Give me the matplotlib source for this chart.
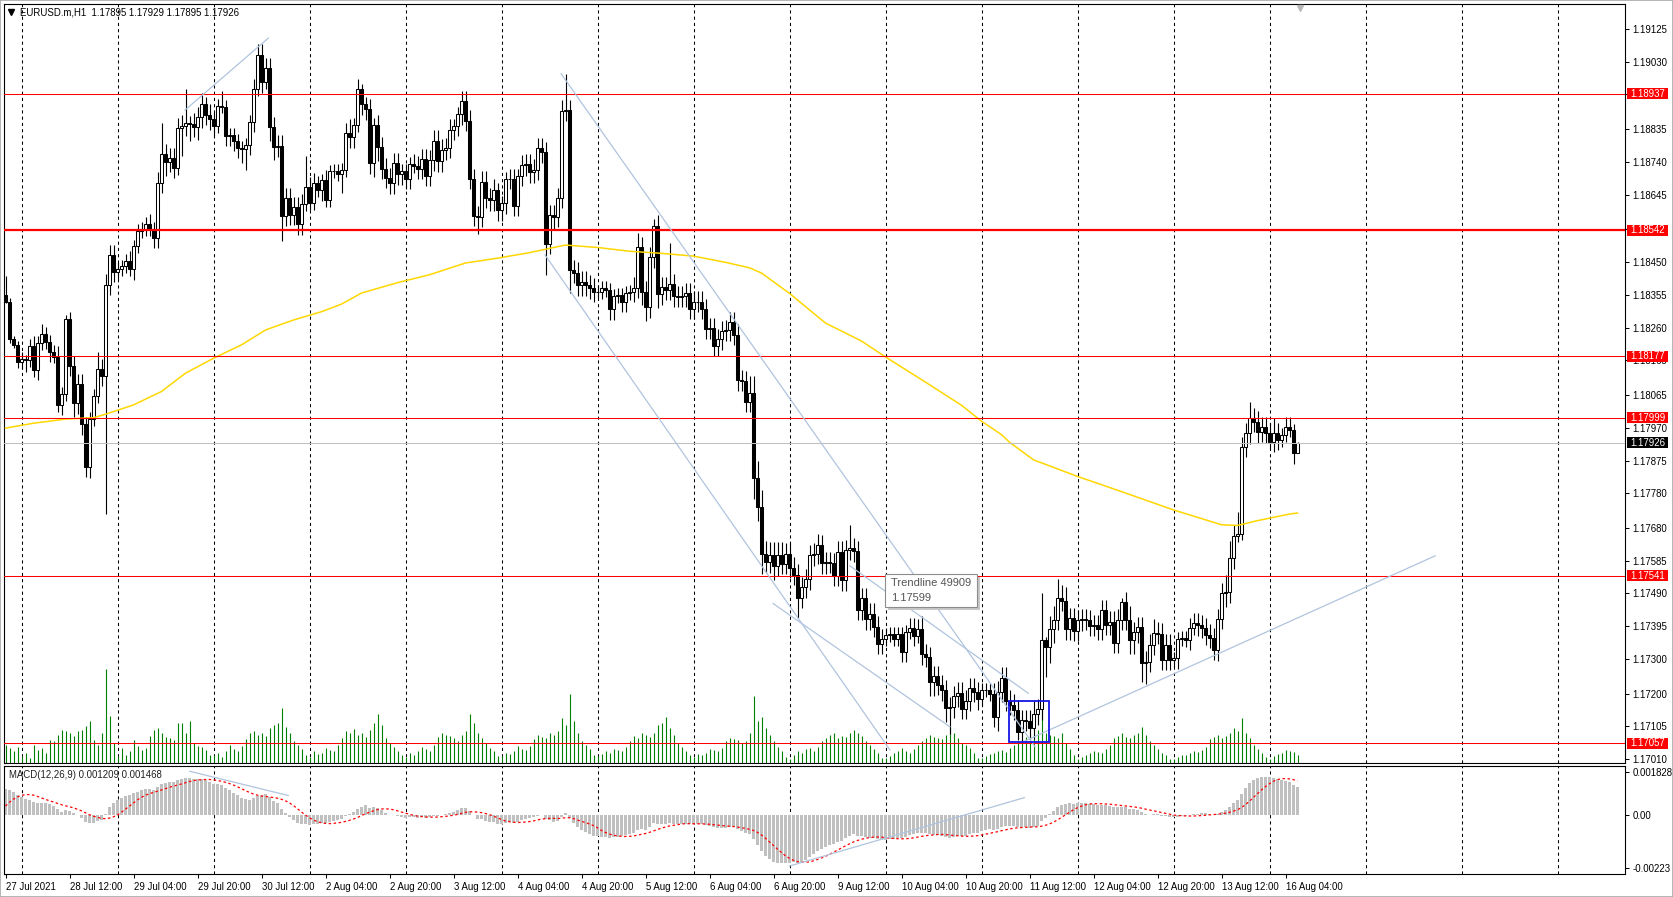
import matplotlib
matplotlib.use("Agg")
import matplotlib.pyplot as plt
import numpy as np
from matplotlib import transforms
from matplotlib.patches import Rectangle
from matplotlib.lines import Line2D

plt.rcParams['font.family'] = ['Liberation Sans', 'DejaVu Sans']

# ---------------- DATA (EURUSD.m H1, 27 Jul 2021 20:00 .. 16 Aug 2021 07:00) ----------------
first_open = 1.18355
close_27jul = [1.18335, 1.18226, 1.18210, 1.18160]
close_28jul = [1.18170, 1.18165, 1.18207, 1.18138, 1.18215, 1.18241, 1.18218, 1.18189, 1.18176, 1.18036, 1.18067, 1.18284,
               1.18149, 1.18041, 1.18097, 1.17980, 1.17855, 1.17995, 1.18063, 1.18139, 1.18121, 1.18384, 1.18470, 1.18422]
close_29jul = [1.18429, 1.18437, 1.18453, 1.18429, 1.18495, 1.18540, 1.18546, 1.18559, 1.18546, 1.18519, 1.18680, 1.18762,
               1.18740, 1.18750, 1.18723, 1.18837, 1.18845, 1.18852, 1.18850, 1.18842, 1.18869, 1.18908, 1.18876, 1.18863]
close_30jul = [1.18844, 1.18902, 1.18900, 1.18815, 1.18817, 1.18801, 1.18780, 1.18777, 1.18789, 1.18855, 1.18951, 1.19050,
               1.18970, 1.19011, 1.18840, 1.18784, 1.18787, 1.18584, 1.18635, 1.18586, 1.18609, 1.18559, 1.18618, 1.18667]
close_02aug = [1.18620, 1.18678, 1.18657, 1.18686, 1.18628, 1.18712, 1.18714, 1.18704, 1.18717, 1.18823, 1.18811, 1.18846,
               1.18950, 1.18907, 1.18892, 1.18736, 1.18847, 1.18782, 1.18720, 1.18693, 1.18678, 1.18736, 1.18704, 1.18714]
close_03aug = [1.18690, 1.18733, 1.18728, 1.18719, 1.18748, 1.18699, 1.18744, 1.18801, 1.18741, 1.18775, 1.18780, 1.18833,
               1.18844, 1.18878, 1.18916, 1.18859, 1.18690, 1.18583, 1.18581, 1.18683, 1.18635, 1.18628, 1.18659, 1.18600]
close_04aug = [1.18620, 1.18690, 1.18690, 1.18613, 1.18700, 1.18730, 1.18733, 1.18710, 1.18717, 1.18780, 1.18767, 1.18502,
               1.18585, 1.18580, 1.18635, 1.18888, 1.18890, 1.18427, 1.18419, 1.18382, 1.18393, 1.18382, 1.18374, 1.18364]
close_05aug = [1.18362, 1.18376, 1.18369, 1.18313, 1.18352, 1.18355, 1.18335, 1.18360, 1.18364, 1.18376, 1.18493, 1.18364,
               1.18319, 1.18463, 1.18555, 1.18356, 1.18377, 1.18369, 1.18385, 1.18351, 1.18349, 1.18350, 1.18359, 1.18314]
close_06aug = [1.18335, 1.18335, 1.18314, 1.18257, 1.18258, 1.18208, 1.18226, 1.18250, 1.18252, 1.18276, 1.18239, 1.18107,
               1.18105, 1.18045, 1.18071, 1.17825, 1.17740, 1.17603, 1.17580, 1.17600, 1.17570, 1.17600, 1.17575, 1.17605]
close_09aug = [1.17565, 1.17544, 1.17477, 1.17508, 1.17531, 1.17600, 1.17605, 1.17629, 1.17577, 1.17580, 1.17578, 1.17541,
               1.17611, 1.17528, 1.17616, 1.17621, 1.17612, 1.17442, 1.17477, 1.17415, 1.17432, 1.17394, 1.17344, 1.17358]
close_10aug = [1.17370, 1.17372, 1.17358, 1.17373, 1.17321, 1.17378, 1.17389, 1.17368, 1.17387, 1.17314, 1.17306, 1.17234,
               1.17250, 1.17225, 1.17210, 1.17159, 1.17160, 1.17192, 1.17203, 1.17156, 1.17180, 1.17215, 1.17205, 1.17184]
close_11aug = [1.17211, 1.17210, 1.17200, 1.17133, 1.17206, 1.17246, 1.17180, 1.17168, 1.17153, 1.17090, 1.17124, 1.17122,
               1.17100, 1.17140, 1.17155, 1.17355, 1.17335, 1.17386, 1.17414, 1.17476, 1.17469, 1.17386, 1.17418, 1.17382]
close_12aug = [1.17412, 1.17415, 1.17413, 1.17396, 1.17398, 1.17386, 1.17442, 1.17399, 1.17408, 1.17348, 1.17414, 1.17464,
               1.17413, 1.17355, 1.17378, 1.17393, 1.17288, 1.17293, 1.17342, 1.17376, 1.17374, 1.17298, 1.17342, 1.17298]
close_13aug = [1.17302, 1.17358, 1.17360, 1.17355, 1.17389, 1.17404, 1.17398, 1.17390, 1.17371, 1.17361, 1.17325, 1.17416,
               1.17491, 1.17493, 1.17592, 1.17657, 1.17662, 1.17914, 1.17954, 1.17998, 1.17988, 1.17959, 1.17972, 1.17955]
close_16aug = [1.17930, 1.17955, 1.17935, 1.17948, 1.17972, 1.17962, 1.17896, 1.17926]

# wick lengths beyond the body, in pips
wick_up = ([5.3, 1, 1, 1] +
           [2, 1, 2, 3, 2, 3, 2, 2, 2, 3, 2, 1.3, 2, 3, 3, 3, 2, 2, 2, 5, 3, 3, 3, 3] +
           [2, 2, 2, 3, 2, 2, 2, 2, 3, 2, 3, 9, 3, 3, 3, 3, 3, 10, 2, 3, 3, 3, 2, 3] +
           [2, 2, 4.4, 2, 2, 2, 2, 2, 2, 2, 3, 3, 3, 3, 3, 3, 3, 3, 3, 3, 3, 3, 3, 9] +
           [3, 3, 2, 2, 3, 2, 2, 2, 2, 3, 4, 2, 3, 1.5, 2, 3, 2, 3, 3, 3, 3, 3, 3, 2] +
           [2, 2, 3, 3, 3, 3, 3, 3, 3, 3, 3, 3, 2, 2, 3, 3, 3, 3, 3, 3, 3, 3, 3, 2] +
           [2, 2, 3, 3, 2, 3, 3, 3, 3, 3, 3, 3, 3, 3, 3, 3, 10.3, 3, 3, 3, 3, 3, 3, 3] +
           [2, 2, 2, 2, 2, 2, 2, 2, 2, 3, 4, 3, 3, 3, 2, 3, 3, 3, 12, 3, 3, 3, 3, 3] +
           [3, 3, 3, 3, 3, 3, 3, 3, 3, 3, 3, 3, 3, 3, 5, 5, 5, 5, 4, 4, 4, 4, 4, 3] +
           [3, 3, 3, 3, 3, 3, 3, 3.3, 3, 3, 3, 3, 3, 3, 3, 6.6, 3, 3, 3, 3, 3, 3, 3, 3] +
           [2, 2, 2, 2, 2, 2, 3, 3, 3, 3.7, 3, 3, 3, 3, 3, 3, 3, 3, 3, 3, 3, 3, 3, 3] +
           [2, 2, 2, 3, 3, 3, 3, 3, 3, 3, 3, 3, 3, 4, 3, 13.6, 1, 4, 4, 5.6, 4, 4, 3, 3] +
           [3, 3, 3, 3, 3, 3, 3, 3, 3, 3, 3, 1.3, 3, 4, 3, 3, 3, 3, 3, 4, 3, 3, 3, 3] +
           [2, 2, 2, 2, 3, 3, 3, 3, 3, 3, 3, 3, 3, 5, 5, 3, 6.5, 3, 3, 4.6, 3, 3, 3, 3] +
           [3, 4.4, 3, 2, 3, 3, 2, 0.3])
wick_dn = ([0.5, 1, 1, 1.6] +
           [2, 3.4, 2, 2, 3, 2, 2, 3, 2, 2, 3, 2, 3, 4, 3, 3, 2.7, 3, 2, 2, 3, 40, 3, 3] +
           [2, 2, 2, 2, 3, 2, 2, 2, 2, 3, 3, 3, 4, 3, 3, 2, 8, 3, 5, 3, 4, 3, 3, 3] +
           [3, 2, 2, 3, 3, 3, 3, 4, 6, 3, 3, 2, 3, 2, 4, 4, 3, 7.2, 3, 3, 3, 3, 3, 2] +
           [2, 2, 2, 3, 2, 2, 2, 2, 5.5, 2, 3, 3, 2, 3, 3, 3, 4, 4, 3, 3, 3, 3, 3, 3] +
           [3, 3, 2, 3, 3, 3, 3, 3, 3, 3, 3, 3, 3, 3, 3, 3, 3, 3, 5, 3, 3, 3, 3, 3] +
           [3, 3, 3, 3, 3, 3, 3, 3, 3, 3, 3, 8.9, 3, 3.5, 3, 3, 3, 6.6, 3, 3, 3, 3, 3, 3] +
           [2, 2, 2, 3, 3, 2, 3, 3, 2, 3, 3, 4, 4, 3, 3, 4, 3, 3, 3, 3, 3, 3, 3, 3] +
           [3, 3, 3, 3, 3, 3, 3, 3, 3, 3, 3, 3, 3, 3, 3, 6, 4, 5.6, 3, 3, 4, 3, 3, 3] +
           [3, 3, 5.7, 3, 3, 3, 3, 3, 3, 3, 3, 3, 3, 3, 3, 3, 3, 3, 3, 3, 3, 3, 3, 3] +
           [2, 2, 2, 2, 3, 3, 2, 3, 2, 3, 3, 4, 4, 3, 3, 4, 7.5, 3, 3, 3, 3, 3, 3, 3] +
           [2, 2, 2, 3, 4, 3, 3, 3, 3, 2.5, 3, 3, 3, 3, 3, 3, 8.6, 4.7, 4, 3, 3, 3, 3, 3] +
           [3, 3, 3, 3, 3, 3, 3, 3, 3, 3, 3, 3, 3, 4, 4, 3, 5.3, 6, 3, 3, 3, 3, 3, 3] +
           [2, 3, 2, 2, 3, 2, 3, 3, 3, 3, 2.7, 3, 3, 4, 3, 3, 1.7, 1.7, 3, 3, 3, 3.4, 3, 3] +
           [2, 3, 3, 2, 2, 2, 3, 0])

# tick volume (relative units)
volume = ([18, 15, 12, 16] +
          [7, 10, 5, 18, 13, 15, 10, 23, 22, 28, 33, 32, 30, 27, 32, 33, 37, 42, 23, 18, 30, 94, 47, 20] +
          [7, 15, 8, 12, 23, 17, 13, 15, 27, 33, 35, 30, 26, 25, 23, 40, 40, 30, 42, 20, 17, 16, 13, 8] +
          [8, 10, 6, 12, 18, 14, 12, 17, 24, 30, 32, 28, 30, 27, 35, 38, 40, 55, 36, 30, 22, 18, 14, 8] +
          [6, 12, 9, 10, 15, 13, 12, 18, 25, 32, 30, 34, 28, 30, 26, 33, 40, 49, 38, 25, 20, 16, 12, 8] +
          [6, 10, 8, 12, 16, 14, 12, 18, 26, 30, 28, 27, 25, 22, 28, 32, 49, 40, 30, 25, 20, 15, 12, 7] +
          [7, 10, 9, 12, 17, 14, 13, 17, 24, 28, 26, 25, 30, 28, 32, 45, 38, 69, 42, 30, 22, 18, 14, 8] +
          [7, 9, 12, 10, 14, 13, 12, 16, 22, 27, 25, 30, 28, 26, 30, 38, 40, 46, 35, 28, 20, 16, 12, 8] +
          [6, 9, 8, 10, 14, 13, 12, 15, 22, 25, 24, 23, 20, 22, 30, 67, 42, 46, 35, 28, 22, 16, 12, 6] +
          [4, 8, 12, 10, 14, 15, 12, 16, 22, 25, 28, 30, 25, 27, 26, 30, 33, 30, 27, 22, 18, 14, 10, 5] +
          [5, 7, 10, 12, 15, 12, 10, 14, 18, 22, 25, 28, 26, 25, 24, 28, 36, 30, 25, 20, 18, 15, 10, 5] +
          [5, 7, 9, 10, 12, 13, 11, 15, 18, 22, 24, 26, 28, 29, 33, 55, 30, 28, 27, 25, 30, 20, 14, 8] +
          [4, 6, 8, 10, 12, 11, 10, 14, 18, 25, 27, 30, 26, 25, 28, 30, 36, 28, 22, 18, 14, 10, 8, 4] +
          [4, 6, 8, 8, 10, 12, 11, 13, 16, 24, 26, 28, 25, 27, 30, 35, 32, 45, 30, 25, 18, 14, 10, 6] +
          [4, 7, 9, 10, 13, 12, 11, 8])

# moving average (yellow) read at sample bars
ma_bar = [0, 7, 15, 22, 25, 32, 39, 45, 52, 59, 65, 72, 79, 84, 89, 98, 106, 115, 123, 131, 140, 148, 156, 164,
          172, 180, 186, 189, 196, 205, 214, 220, 230, 239, 244, 249, 251, 257, 268, 279, 292, 304, 308, 313, 321, 323]
ma_val = [1.17969, 1.17983, 1.17995, 1.17999, 1.18009, 1.18036, 1.18075, 1.18128, 1.18171, 1.18210, 1.18253, 1.18282,
          1.18306, 1.18328, 1.18360, 1.18390, 1.18413, 1.18447, 1.18461, 1.18477, 1.18499, 1.18492, 1.18481, 1.18475,
          1.18467, 1.18449, 1.18433, 1.18418, 1.18359, 1.18273, 1.18221, 1.18175, 1.18102, 1.18035, 1.17989, 1.17950,
          1.17928, 1.17877, 1.17829, 1.17785, 1.17732, 1.17689, 1.17687, 1.17701, 1.17720, 1.17723]

# MACD(12,26,9) state before the first visible bar
ema12_seed = 1.18190
ema26_seed = 1.18080
macd_prior = [-0.0004, -0.0002, 0.0000, 0.0002, 0.0004, 0.0006, 0.0008, 0.0010]

# horizontal levels / objects
levels = [1.18937, 1.18542, 1.18177, 1.17999, 1.17541, 1.17057]
level_width = [0.75, 1.6, 0.75, 0.75, 0.75, 0.75]
last_price = 1.17926
trend_lines = [(44.9, 1.18890, 65.7, 1.19098),
               (138.9, 1.18995, 257.4, 1.17046),
               (134.9, 1.18470, 221.1, 1.17037),
               (191.9, 1.17461, 236.1, 1.17104),
               (211.1, 1.17570, 255.7, 1.17201),
               (254.5, 1.17061, 357.4, 1.17599)]
macd_trend_lines = [(46.1, 0.00187, 70.7, 0.00084),
                    (196.0, -0.00216, 254.7, 0.00075)]
box = (250.9, 1.17059, 260.9, 1.17179)

price_ticks = [1.19125, 1.19030, 1.18935, 1.18835, 1.18740, 1.18645, 1.18545, 1.18450, 1.18355, 1.18260, 1.18165,
               1.18065, 1.17970, 1.17875, 1.17780, 1.17680, 1.17585, 1.17490, 1.17395, 1.17300, 1.17200, 1.17105, 1.17010]
macd_ticks = [0.001828, 0.0, -0.00223]
macd_tick_labels = ['0.001828', '0.00', '-0.00223']
time_labels = ['27 Jul 2021', '28 Jul 12:00', '29 Jul 04:00', '29 Jul 20:00', '30 Jul 12:00', '2 Aug 04:00',
               '2 Aug 20:00', '3 Aug 12:00', '4 Aug 04:00', '4 Aug 20:00', '5 Aug 12:00', '6 Aug 04:00',
               '6 Aug 20:00', '9 Aug 12:00', '10 Aug 04:00', '10 Aug 20:00', '11 Aug 12:00', '12 Aug 04:00',
               '12 Aug 20:00', '13 Aug 12:00', '16 Aug 04:00']
label_step = 16
day_start_bar = 4
bars_per_day = 24

# ---------------- derived ----------------
close = np.array(close_27jul + close_28jul + close_29jul + close_30jul + close_02aug + close_03aug + close_04aug +
                 close_05aug + close_06aug + close_09aug + close_10aug + close_11aug + close_12aug + close_13aug +
                 close_16aug)
n = len(close)
x = np.arange(n)
opn = np.r_[first_open, close[:-1]]
high = np.maximum(opn, close) + np.array(wick_up) * 1e-4
low = np.minimum(opn, close) - np.array(wick_dn) * 1e-4
vol = np.array(volume, dtype=float)

a12, a26 = 2 / 13, 2 / 27
e12, e26 = ema12_seed, ema26_seed
macd = []
for c in close:
    e12 += a12 * (c - e12)
    e26 += a26 * (c - e26)
    macd.append(e12 - e26)
macd = np.array(macd)
signal = np.convolve(np.r_[macd_prior, macd], np.ones(9) / 9, mode='valid')

# ---------------- figure ----------------
W, H = 1673, 897
FS = 6.9
fig = plt.figure(figsize=(W / 100, H / 100), dpi=100)
fig.patch.set_facecolor('white')


def rect_px(x0, y0, x1, y1):
    return [x0 / W, 1 - y1 / H, (x1 - x0) / W, (y1 - y0) / H]


ax = fig.add_axes(rect_px(4, 4, 1625, 762.7))
axm = fig.add_axes(rect_px(4, 765.7, 1625, 874))
xlim = (-0.375, 404.875)
ax.set_xlim(*xlim)
axm.set_xlim(*xlim)
ax.set_ylim(1.17000, 1.19197)
axm.set_ylim(-0.002498, 0.002109)

for a in (ax, axm):
    for s in a.spines.values():
        s.set_linewidth(0.8)
        s.set_color('black')
    a.set_facecolor('white')

# grid (day separators)
grid_bars = np.arange(day_start_bar, xlim[1], bars_per_day)
for a in (ax, axm):
    for g in grid_bars:
        a.axvline(g, color='black', lw=0.75, ls=(0, (3, 3)), zorder=1)

# volumes
VOL_TOP = 760.0
vtrans = transforms.blended_transform_factory(ax.transData, ax.transAxes)
ax.vlines(x, 0, vol / VOL_TOP, transform=vtrans, color='#008000', lw=0.8, zorder=2)

# candles
ax.vlines(x, low, high, color='black', lw=0.8, zorder=3)
bull = close >= opn
body = np.maximum(np.abs(close - opn), 2e-6)
ax.bar(x[bull], body[bull], bottom=opn[bull], width=0.55, facecolor='white', edgecolor='black',
       linewidth=0.75, zorder=4)
ax.bar(x[~bull], body[~bull], bottom=close[~bull], width=0.55, facecolor='black', edgecolor='black',
       linewidth=0.75, zorder=4)

# moving average
ax.plot(ma_bar, ma_val, color='#FFD700', lw=1.1, zorder=5)

# levels
for lv, lw in zip(levels, level_width):
    ax.axhline(lv, color='#FF0000', lw=lw, zorder=6)
ax.axhline(last_price, color='#C0C0C0', lw=0.75, zorder=5)

# trend lines
for (b0, p0, b1, p1) in trend_lines:
    ax.plot([b0, b1], [p0, p1], color='#B0C4DE', lw=0.9, zorder=6)
for (b0, p0, b1, p1) in macd_trend_lines:
    axm.plot([b0, b1], [p0, p1], color='#B0C4DE', lw=0.9, zorder=6)

# rectangle object
ax.add_patch(Rectangle((box[0], box[1]), box[2] - box[0], box[3] - box[1], fill=False, ec='#1515E6',
                       lw=1.3, zorder=7))

# chart-shift marker
ax.plot([n - 1 + 0.6], [0.995], marker='v', ms=4, color='#B8B8B8', transform=vtrans, clip_on=False, zorder=8)

# right price axis
ax.yaxis.tick_right()
ax.set_yticks(price_ticks)
ax.set_yticklabels([f'{v:.5f}' for v in price_ticks])
ax.tick_params(axis='y', direction='out', length=3, width=0.75, labelsize=FS, pad=2.5, colors='black')
ax.set_xticks([])

axm.yaxis.tick_right()
axm.set_yticks(macd_ticks)
axm.set_yticklabels(macd_tick_labels)
axm.tick_params(axis='y', direction='out', length=3, width=0.75, labelsize=FS, pad=2.5)
axm.set_xticks(np.arange(0, len(time_labels) * label_step, label_step))
axm.set_xticklabels(time_labels)
axm.tick_params(axis='x', direction='out', length=3, width=0.75, labelsize=FS, pad=2.5)
for t in axm.get_xticklabels():
    t.set_ha('left')

# level labels on the price scale
ppp = (ax.get_ylim()[1] - ax.get_ylim()[0]) / (762.7 - 4)
ltrans = transforms.blended_transform_factory(fig.transFigure, ax.transData)
for lv, bg in [(v, '#FF0000') for v in levels] + [(last_price, 'black')]:
    ax.add_patch(Rectangle((1627 / W, lv - 5.5 * ppp), 41 / W, 11 * ppp, transform=ltrans, fc=bg, ec='none',
                           clip_on=False, zorder=10))
    ax.text(1630.5 / W, lv, f'{lv:.5f}', transform=ltrans, color='white', fontsize=FS, va='center', ha='left',
            clip_on=False, zorder=11)

# tooltip
ftrans = fig.transFigure
fig.patches.append(Rectangle(rect_px(887.5, 576.5, 980, 609.5)[:2], 92.5 / W, 33 / H, transform=ftrans,
                             fc='#C8C8C8', ec='none', zorder=20))
fig.patches.append(Rectangle(rect_px(884.5, 573.5, 977, 606.5)[:2], 92.5 / W, 33 / H, transform=ftrans,
                             fc='white', ec='#8C8C8C', lw=0.8, zorder=21))
fig.text(891 / W, 1 - 583 / H, 'Trendline 49909', fontsize=8, color='#555555', va='center', zorder=22)
fig.text(891 / W, 1 - 597.5 / H, '1.17599', fontsize=8, color='#555555', va='center', zorder=22)

# header texts
fig.add_artist(Line2D([11 / W], [1 - 12 / H], marker='v', ms=4, color='black', transform=ftrans))
fig.text(20.5 / W, 1 - 12.5 / H, 'EURUSD.m,H1  1.17895 1.17929 1.17895 1.17926', fontsize=FS, color='black',
         va='center')
fig.text(9 / W, 1 - 775 / H, 'MACD(12,26,9) 0.001209 0.001468', fontsize=FS, color='#202020', va='center')

# MACD
axm.bar(x, macd, width=0.7, color='#C0C0C0', linewidth=0, zorder=2)
axm.plot(x, signal, color='#FF0000', lw=0.9, ls=(0, (2, 2)), zorder=3)

# window frame
fig.patches.append(Rectangle((0, 0), 1, 1, transform=ftrans, fill=False, ec='#A8A8A8', lw=1.2, zorder=30))

fig.savefig('out.png', dpi=100)
